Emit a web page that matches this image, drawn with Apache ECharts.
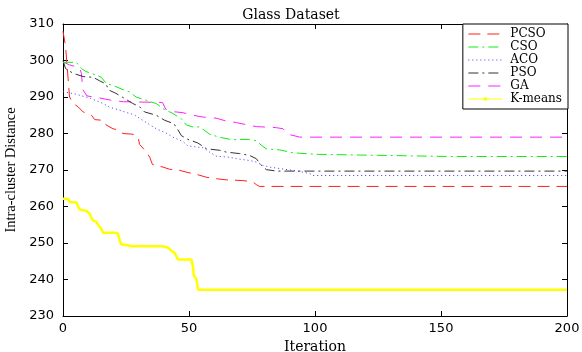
<!DOCTYPE html>
<html>
<head>
<meta charset="utf-8">
<script src="https://cdn.jsdelivr.net/npm/echarts@6/dist/echarts.min.js"></script>
<style>
html,body{margin:0;padding:0;background:#fff;}
#chart{width:582px;height:352px;}
</style>
</head>
<body>
<div id="chart"></div>
<script>
// Data: [iteration, intra-cluster distance]
const seriesNames = ['PCSO', 'CSO', 'ACO', 'PSO', 'GA', 'K-means'];
const xTicks = [0, 50, 100, 150, 200];
const yTicks = [230, 240, 250, 260, 270, 280, 290, 300, 310];

const pcso = [[0,308],[1,304],[2.6,290],[4,288.3],[6,287.3],[8,285.9],[11.3,285],[12.6,283.8],[16,283.6],[17.2,282.3],[19.8,281.3],[21.8,281],[23.8,280],[27.8,279.8],[29.8,279],[30.4,277],[33,275],[34.4,273.5],[35.5,271.5],[39.7,270.8],[42.3,270.2],[46.3,269.9],[49.6,269.3],[53,268.8],[57,268],[61,267.6],[64.8,267.3],[71.4,267.1],[75.4,266.7],[76.7,266],[78,265.5],[200,265.5]];
const cso = [[0,299.5],[5.3,299.5],[7.3,297.8],[9,297],[13.3,296],[15.2,295.4],[17.2,293.7],[20.5,293],[23.8,292],[26.4,291.4],[29,290],[33,289.1],[37,288.2],[39.7,286.8],[43.6,285.5],[47,284],[49,282.3],[51.6,281.8],[54.3,281.8],[58.2,279.8],[62,279],[67,278.3],[74,278.4],[76.7,278],[78.7,276.8],[80.7,275.8],[86,275.5],[91.3,274.7],[100.5,274.3],[127,274],[153.5,273.7],[200,273.7]];
const aco = [[0,291.5],[5,290.8],[11,289.6],[16,288.2],[18.5,287.2],[22.5,286.4],[25,285.8],[28,285.2],[31.7,283.6],[37,281.3],[41,280.1],[43.6,279],[47.6,277.8],[49.6,276.6],[55.6,276.1],[58.2,274.9],[60.8,273.8],[66,273.5],[68.8,273.1],[74,272.6],[76.7,272.2],[79.4,271.2],[82,270.8],[94,269.6],[98,269],[99.2,268.5],[200,268.5]];
const pso = [[0,300],[1,297.8],[4,296.5],[8,295.6],[12,295.4],[14.6,294.4],[17,293.6],[18.2,291.9],[21,291],[23.5,290],[27.5,288.3],[30.4,287.3],[32.4,285.9],[37,285],[40.4,283.6],[44,282.7],[45.6,281],[47,279.4],[49.5,278.4],[53.5,277.4],[57,275.8],[62.2,275.4],[64.8,274.9],[70,274.5],[74,274],[76.7,273.1],[78.7,271.3],[80.7,270.1],[84.7,269.7],[200,269.7]];
const ga = [[0,299.6],[2.6,298.8],[6.6,298],[7.3,296.5],[7.9,292],[9.5,290.3],[14,289.8],[20,289],[24,288.7],[39.5,288.5],[40.8,286.6],[43.6,286],[47.6,285.7],[51.6,285],[55.6,284.5],[60.8,284.2],[64.8,283.4],[68.8,283],[72.8,282.4],[76.7,281.9],[84.7,281.6],[87.3,281.3],[89.3,279.8],[94,279],[200,279]];
const kmeans = [[0,262.1],[2,262.1],[2.6,261.2],[5.3,261.1],[6,260],[6.6,259.2],[9.3,258.8],[10.6,258],[11.3,256.9],[11.9,256.2],[13.2,255.8],[13.9,255],[15.2,253.9],[15.9,252.8],[20.5,252.8],[21.8,252.6],[22.5,250.7],[23.2,249.6],[25.8,249.4],[27.1,249.1],[39.7,249.1],[41.7,248.7],[43,247.9],[44.3,247.3],[45,246.3],[45.6,245.5],[51,245.5],[51.6,243.3],[51.9,241],[52.9,240.3],[53.6,237.2],[200,237.2]];

const chart = echarts.init(document.getElementById('chart'), null, {renderer: 'canvas'});

function axisCommon(extra) {
  return Object.assign({
    type: 'value',
    axisLine: {show: true, onZero: false, lineStyle: {color: '#000', width: 1}},
    axisTick: {show: true, inside: true, length: 5, lineStyle: {color: '#000', width: 1}},
    splitLine: {show: false}
  }, extra);
}

const xMin = xTicks[0], xMax = xTicks[xTicks.length - 1], xInt = xTicks[1] - xTicks[0];
const yMin = yTicks[0], yMax = yTicks[yTicks.length - 1], yInt = yTicks[1] - yTicks[0];

const legendData = seriesNames.map(function (n) {
  return n === 'K-means'
    ? {name: n, itemStyle: {opacity: 1, color: '#ffff00'}}
    : {name: n, itemStyle: {opacity: 0}};
});

const option = {
  animation: false,
  backgroundColor: '#fff',
  title: {
    text: 'Glass Dataset',
    left: 'center',
    top: 3,
    textStyle: {fontFamily: 'DejaVu Serif', fontSize: 14, fontWeight: 'normal', color: '#000'}
  },
  grid: {left: 63, right: 15, top: 24, bottom: 36, containLabel: false, outerBoundsMode: 'none'},
  legend: {
    orient: 'vertical',
    right: 14,
    top: 24,
    padding: [4, 6, 4, 5],
    itemWidth: 34,
    itemHeight: 4,
    itemGap: 1,
    backgroundColor: '#fff',
    borderColor: '#000',
    borderWidth: 1,
    borderRadius: 0,
    lineStyle: {width: 1},
    textStyle: {fontFamily: 'DejaVu Serif', fontSize: 12, color: '#000', lineHeight: 12, padding: [0, 0, 0, 3]},
    data: legendData
  },
  xAxis: [
    axisCommon({
      min: xMin, max: xMax, interval: xInt, position: 'bottom',
      name: 'Iteration', nameLocation: 'middle', nameGap: 19,
      nameTextStyle: {fontFamily: 'DejaVu Serif', fontSize: 14, color: '#000'},
      axisLabel: {fontFamily: 'DejaVu Sans', fontSize: 13, color: '#000', margin: 6}
    }),
    axisCommon({
      min: xMin, max: xMax, interval: xInt, position: 'top',
      axisLabel: {show: false}
    })
  ],
  yAxis: [
    axisCommon({
      min: yMin, max: yMax, interval: yInt, position: 'left',
      name: 'Intra-cluster Distance', nameLocation: 'middle', nameGap: 37,
      nameTextStyle: {fontFamily: 'Liberation Serif', fontSize: 14.5, color: '#000'},
      axisLabel: {fontFamily: 'DejaVu Sans', fontSize: 13, color: '#000', margin: 9}
    }),
    axisCommon({
      min: yMin, max: yMax, interval: yInt, position: 'right',
      axisLabel: {show: false}
    })
  ],
  series: [
    {name: 'PCSO', type: 'line', data: pcso, symbol: 'none', z: 6,
     lineStyle: {color: '#ff2020', width: 1, type: [12, 7]}, itemStyle: {color: '#ff2020'}},
    {name: 'CSO', type: 'line', data: cso, symbol: 'none', z: 5,
     lineStyle: {color: '#10ee10', width: 1, type: [10, 4, 2, 4]}, itemStyle: {color: '#10ee10'}},
    {name: 'ACO', type: 'line', data: aco, symbol: 'none', z: 4,
     lineStyle: {color: '#3535ff', width: 1, type: [1, 3]}, itemStyle: {color: '#3535ff'}},
    {name: 'PSO', type: 'line', data: pso, symbol: 'none', z: 3,
     lineStyle: {color: '#333333', width: 1, type: [10, 4, 2, 4]}, itemStyle: {color: '#333333'}},
    {name: 'GA', type: 'line', data: ga, symbol: 'none', z: 2,
     lineStyle: {color: '#ff20ff', width: 1, type: [12, 8]}, itemStyle: {color: '#ff20ff'}},
    {name: 'K-means', type: 'line', data: kmeans, symbol: 'rect', symbolSize: 3, showSymbol: false, z: 1,
     lineStyle: {color: '#ffff00', width: 2.5}, itemStyle: {color: '#ffff00'}}
  ]
};
chart.setOption(option);
</script>
</body>
</html>
